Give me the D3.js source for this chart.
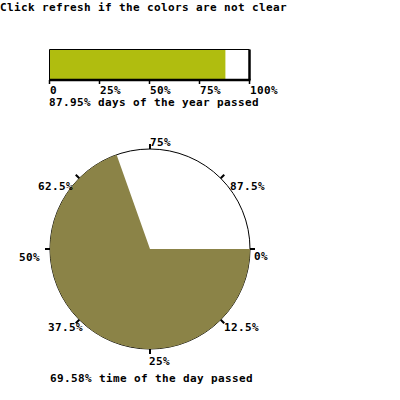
<!DOCTYPE html>
<html><head><meta charset="utf-8">
<script src="https://cdn.jsdelivr.net/npm/d3@7"></script>
<style>
html,body{margin:0;padding:0;background:#fff;}
svg text{font-family:"DejaVu Sans Mono",monospace;font-weight:bold;font-size:11px;letter-spacing:0.38px;fill:#000;}
</style></head>
<body>
<svg id="c" width="400" height="400"></svg>
<script>
// ---- data ----
const title = "Click refresh if the colors are not clear";
const yearPassed = 87.95;           // percent
const yearTicks = [0, 25, 50, 75, 100];
const yearTickLabels = ["0", "25%", "50%", "75%", "100%"];
const yearCaption = "87.95% days of the year passed";
const dayPassed = 69.58;            // percent
const dayTicks = [0, 12.5, 25, 37.5, 50, 62.5, 75, 87.5];
const dayTickLabels = ["0%", "12.5%", "25%", "37.5%", "50%", "62.5%", "75%", "87.5%"];
const dayCaption = "69.58% time of the day passed";

// ---- layout (label nudges relative to circle point) ----
const labelNudge = [[4,11],[3.3,11.3],[-1,16],[-31.3,11.3],[-31,12],[-41.3,11.7],[0,-3],[9.3,11.7]];

const svg = d3.select("#c");
svg.append("text").attr("x", 0).attr("y", 10.5).text(title);

// ---- bar ----
const bx = d3.scaleLinear().domain([0, 100]).range([49.5, 249.5]);
const barTop = 49.5, barBot = 80;
svg.append("rect").attr("x", bx(0)).attr("y", barTop)
  .attr("width", bx(yearPassed) - bx(0)).attr("height", barBot - barTop)
  .attr("fill", "#b0bd0f");
svg.append("path").attr("d", `M${bx(0)},${barBot}V${barTop}H${bx(100)}`)
  .attr("fill", "none").attr("stroke", "#000").attr("stroke-width", 1);
svg.append("path").attr("d", `M${bx(100)},${barTop}V${barBot}`)
  .attr("fill", "none").attr("stroke", "#000").attr("stroke-width", 2.5);
svg.append("path").attr("d", `M${bx(0)},${barBot}H${bx(100)+1}`)
  .attr("fill", "none").attr("stroke", "#000").attr("stroke-width", 2.5);
svg.selectAll(".btick").data(yearTicks).join("line")
  .attr("x1", d => bx(d)).attr("x2", d => bx(d))
  .attr("y1", barBot).attr("y2", barBot + 4)
  .attr("stroke", "#000").attr("stroke-width", 1.5);
svg.selectAll(".blab").data(yearTicks).join("text")
  .attr("x", d => Math.round(bx(d))).attr("y", 93.5)
  .text((d, i) => yearTickLabels[i]);
svg.append("text").attr("x", 49).attr("y", 105.5).text(yearCaption);

// ---- pie ----
const cx = 150, cy = 249, r = 100;
const ang = d3.scaleLinear().domain([0, 100]).range([0, 2 * Math.PI]); // clockwise from 3 o'clock
const g = svg.append("g").attr("transform", `translate(${cx},${cy})`);
g.append("circle").attr("r", r).attr("fill", "#fff").attr("stroke", "#000").attr("stroke-width", 1);
g.append("path")
  .attr("d", d3.arc().innerRadius(0).outerRadius(r)
    .startAngle(Math.PI / 2).endAngle(Math.PI / 2 + ang(dayPassed))())
  .attr("fill", "#8b8347");
g.selectAll(".ptick").data(dayTicks).join("line")
  .attr("x1", d => r * Math.cos(ang(d))).attr("y1", d => r * Math.sin(ang(d)))
  .attr("x2", d => (r + 5) * Math.cos(ang(d))).attr("y2", d => (r + 5) * Math.sin(ang(d)))
  .attr("stroke", "#000").attr("stroke-width", 2);
svg.selectAll(".plab").data(dayTicks).join("text")
  .attr("x", (d, i) => cx + r * Math.cos(ang(d)) + labelNudge[i][0])
  .attr("y", (d, i) => cy + r * Math.sin(ang(d)) + labelNudge[i][1])
  .text((d, i) => dayTickLabels[i]);
svg.append("text").attr("x", 50).attr("y", 381.5).text(dayCaption);
</script>
</body></html>
